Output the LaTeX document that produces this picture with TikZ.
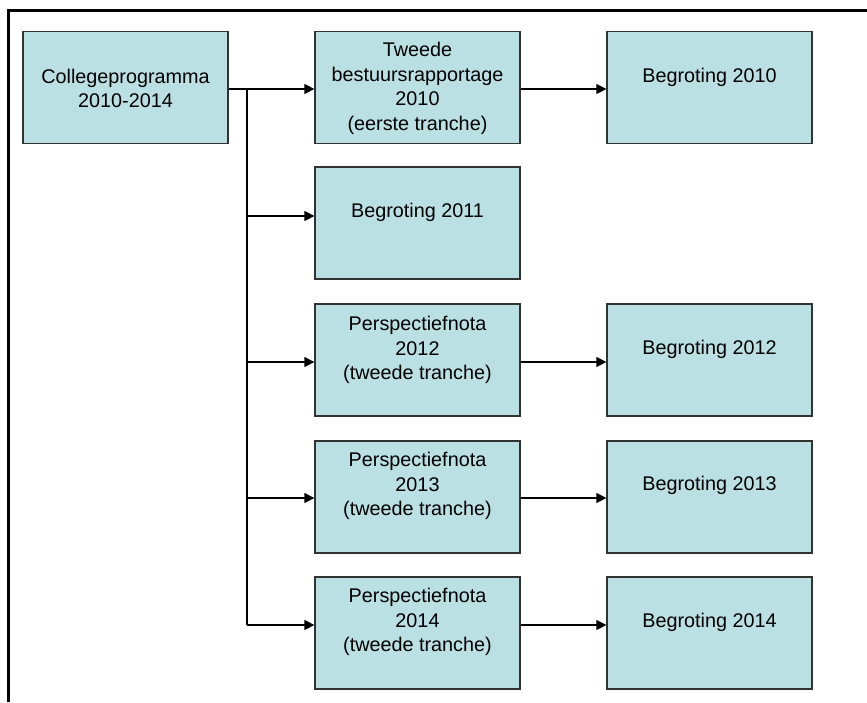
\documentclass[tikz,border=0pt]{standalone}
\usepackage{fontspec}
\setmainfont{Liberation Sans}
\usetikzlibrary{arrows.meta}
\definecolor{boxfill}{RGB}{187,224,227}
\definecolor{boxline}{RGB}{50,50,50}
\tikzset{
  box/.style={draw=boxline, line width=1.3pt, fill=boxfill, minimum width=205pt, minimum height=112pt, inner sep=0pt},
  txt/.style={align=center, inner sep=0pt, font=\fontsize{19.8}{24.6}\selectfont},
  conn/.style={line width=1.4pt},
  arr/.style={line width=1.4pt, -{Triangle[length=10pt,width=10pt]}},
  frame/.style={line width=3pt}
}
\begin{document}
\begin{tikzpicture}[x=1pt,y=-1pt]
\useasboundingbox (0,0) rectangle (867,702);
% partial frame
\draw[frame] (8,702) -- (8,10) -- (867,10);
% boxes (centres)
\node[box] (cp) at (125.5,87.5) {};
\node[box] (a1) at (417.5,87.5) {};
\node[box] (a2) at (417.5,223) {};
\node[box] (a3) at (417.5,360) {};
\node[box] (a4) at (417.5,497) {};
\node[box] (a5) at (417.5,633) {};
\node[box] (b1) at (709.5,87.5) {};
\node[box] (b3) at (709.5,360) {};
\node[box] (b4) at (709.5,497) {};
\node[box] (b5) at (709.5,633) {};
% texts
\node[txt] (tcp) at (125.5,88.5) {Collegeprogramma\\2010-2014};
\node[txt] (ta1) at (417.5,88.5) {Tweede\\bestuursrapportage\\2010\\(eerste tranche)};
\node[txt] (ta2) at (417.5,212) {Begroting 2011};
\node[txt] (ta3) at (417.5,350) {Perspectiefnota\\2012\\(tweede tranche)};
\node[txt] (ta4) at (417.5,486) {Perspectiefnota\\2013\\(tweede tranche)};
\node[txt] (ta5) at (417.5,622) {Perspectiefnota\\2014\\(tweede tranche)};
\node[txt] (tb1) at (709.5,77) {Begroting 2010};
\node[txt] (tb3) at (709.5,349) {Begroting 2012};
\node[txt] (tb4) at (709.5,485) {Begroting 2013};
\node[txt] (tb5) at (709.5,622) {Begroting 2014};
% trunk coordinates
\coordinate (k1) at (247,89);
\coordinate (k2) at (247,216);
\coordinate (k3) at (247,362);
\coordinate (k4) at (247,498);
\coordinate (k5) at (247,625);
% connectors
\draw[conn] (cp.east |- k1) -- (k1);
\draw[conn] (k1) -- (k5);
\draw[arr] (k1) -- (k1 -| a1.west);
\draw[arr] (k2) -- (k2 -| a2.west);
\draw[arr] (k3) -- (k3 -| a3.west);
\draw[arr] (k4) -- (k4 -| a4.west);
\draw[arr] (k5) -- (k5 -| a5.west);
\draw[arr] (a1.east |- k1) -- (b1.west |- k1);
\draw[arr] (a3.east |- k3) -- (b3.west |- k3);
\draw[arr] (a4.east |- k4) -- (b4.west |- k4);
\draw[arr] (a5.east |- k5) -- (b5.west |- k5);
\end{tikzpicture}
\end{document}
